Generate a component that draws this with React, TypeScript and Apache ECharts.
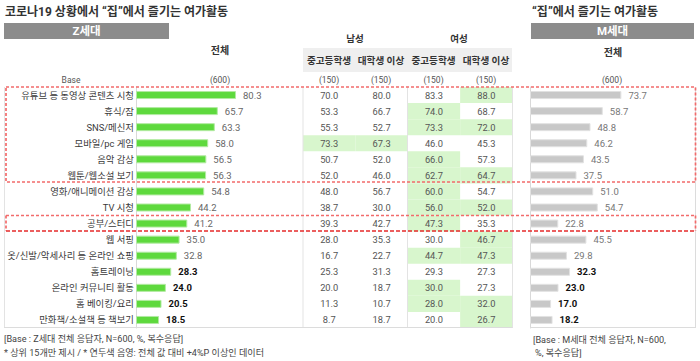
import React, { useEffect, useRef } from 'react';
import * as echarts from 'echarts';

const categories = [
  '유튜브 등 동영상 콘텐츠 시청',
  '휴식/잠',
  'SNS/메신저',
  '모바일/pc 게임',
  '음악 감상',
  '웹툰/웹소설 보기',
  '영화/애니메이션 감상',
  'TV 시청',
  '공부/스터디',
  '웹 서핑',
  '옷/신발/악세사리 등 온라인 쇼핑',
  '홈트레이닝',
  '온라인 커뮤니티 활동',
  '홈 베이킹/요리',
  '만화책/소설책 등 책보기',
];
const zTotal = [80.3, 65.7, 63.3, 58.0, 56.5, 56.3, 54.8, 44.2, 41.2, 35.0, 32.8, 28.3, 24.0, 20.5, 18.5];
const maleSecondary = [70.0, 53.3, 55.3, 73.3, 50.7, 52.0, 48.0, 38.7, 39.3, 28.0, 16.7, 25.3, 20.0, 11.3, 8.7];
const maleCollege = [80.0, 66.7, 52.7, 67.3, 52.0, 46.0, 56.7, 30.0, 42.7, 35.3, 22.7, 31.3, 18.7, 10.7, 18.7];
const femaleSecondary = [83.3, 74.0, 73.3, 46.0, 66.0, 62.7, 60.0, 56.0, 47.3, 30.0, 44.7, 29.3, 30.0, 28.0, 20.0];
const femaleCollege = [88.0, 68.7, 72.0, 45.3, 57.3, 64.7, 54.7, 52.0, 35.3, 46.7, 47.3, 27.3, 27.3, 32.0, 26.7];
const mTotal = [73.7, 58.7, 48.8, 46.2, 43.5, 37.5, 51.0, 54.7, 22.8, 45.5, 29.8, 32.3, 23.0, 17.0, 18.2];
const columnHeaders = ['중고등학생', '대학생 이상', '중고등학생', '대학생 이상'];
const groupHeaders = ['남성', '여성'];
const baseLabels = ['(600)', '(150)', '(150)', '(150)', '(150)', '(600)'];
const highlightThreshold = 4;

const FONT = "Roboto, 'Noto Sans CJK KR', sans-serif";
const TOP = 87;
const H = 241;

export default function App() {
  const ref = useRef<HTMLDivElement>(null);
  useEffect(() => {
    const chart = echarts.init(ref.current!, null, { renderer: 'svg' });
    const tableCols = [maleSecondary, maleCollege, femaleSecondary, femaleCollege];
    const tableData: any[] = [];
    tableCols.forEach((col, c) => {
      col.forEach((v, r) => {
        tableData.push([c, r, v, v - zTotal[r] >= highlightThreshold ? 1 : 0]);
      });
    });
    const barLabel = (i: number) => ({
      color: i >= 11 ? '#111' : '#666',
      fontWeight: i >= 11 ? 'bold' : 'normal',
    });
    const txt = (text: string, x: number, y: number, size: number, opts: any = {}) => ({
      type: 'text',
      x,
      y,
      z: 50,
      style: {
        text,
        fill: opts.fill || '#333',
        fontSize: size,
        fontFamily: FONT,
        fontWeight: opts.bold ? 'bold' : 'normal',
        textAlign: opts.align || 'center',
        textVerticalAlign: 'middle',
        align: opts.align || 'center',
        verticalAlign: 'middle',
      },
    });
    const gline = (x1: number, y1: number, x2: number, y2: number, stroke: string, lw = 1, dash?: number[], z = 5) => ({
      type: 'line',
      z,
      shape: { x1, y1, x2, y2 },
      style: { stroke, lineWidth: lw, lineDash: dash },
    });
    const RED = '#f26b6b';
    const DASH = [3, 2];
    const colX = [329, 381, 433.5, 486];
    const graphic: any[] = [
      txt('코로나19 상황에서 “집”에서 즐기는 여가활동', 5, 12, 12, { bold: true, align: 'left' }),
      txt('“집”에서 즐기는 여가활동', 532, 12, 12, { bold: true, align: 'left' }),
      { type: 'rect', z: 1, shape: { x: 4, y: 23, width: 165, height: 16 }, style: { fill: '#8c8c8c' } },
      txt('Z세대', 86.5, 31, 11.5, { bold: true, fill: '#fff' }),
      { type: 'rect', z: 1, shape: { x: 531, y: 23, width: 163, height: 16 }, style: { fill: '#8c8c8c' } },
      txt('M세대', 612.5, 31, 11.5, { bold: true, fill: '#fff' }),
      txt('전체', 220, 50, 10, { bold: true }),
      txt('전체', 613, 52, 10, { bold: true }),
      txt(groupHeaders[0], 355, 38.5, 9.5, { bold: true }),
      txt(groupHeaders[1], 459, 38.5, 9.5, { bold: true }),
      { type: 'rect', z: 1, shape: { x: 303, y: 48, width: 209, height: 24 }, style: { fill: '#efefef' } },
      ...columnHeaders.map((h, i) => txt(h, colX[i], 60, 9.6, { bold: true, fill: '#333' })),
      txt('Base', 71, 79.5, 8.5, { fill: '#555' }),
      txt(baseLabels[0], 220, 79.5, 8.5, { fill: '#555' }),
      ...colX.map((x, i) => txt(baseLabels[i + 1], x, 79.5, 8.5, { fill: '#555' })),
      txt(baseLabels[5], 612, 79.5, 8.5, { fill: '#555' }),
      // table borders
      gline(303, TOP, 303, TOP + H, '#e3e3e3'),
      gline(407.5, TOP, 407.5, TOP + H, '#e3e3e3'),
      gline(512.5, TOP, 512.5, TOP + H, '#e3e3e3'),
      gline(4.5, TOP, 4.5, TOP + H, '#e3e3e3'),
      gline(4, TOP + H - 0.5, 512.5, TOP + H - 0.5, '#dcdcdc'),
      gline(530, TOP + H - 0.5, 695.5, TOP + H - 0.5, '#dcdcdc'),
      gline(695.5, TOP, 695.5, TOP + H, '#dcdcdc'),
      // red dashed boxes
      { type: 'rect', z: 100, shape: { x: 6, y: 87, width: 689.5, height: 95 }, style: { fill: 'none', stroke: RED, lineWidth: 1.7, lineDash: DASH } },
      gline(6, 215.5, 695.5, 215.5, RED, 1.7, DASH, 100),
      gline(6, 215.5, 6, 231, RED, 1.7, DASH, 100),
      gline(695.5, 215.5, 695.5, 231, RED, 1.7, DASH, 100),
      gline(6, 231, 695.5, 231, '#e52a2a', 1.3, [4, 2], 100),
      // footers
      txt('[Base : Z세대 전체 응답자, N=600, %, 복수응답]', 4, 338.5, 9.1, { align: 'left', fill: '#444' }),
      txt('* 상위 15개만 제시 / * 연두색 음영: 전체 값 대비 +4%P 이상인 데이터', 4, 352.5, 9.1, { align: 'left', fill: '#444' }),
      txt('[Base : M세대 전체 응답자, N=600,', 533, 339.5, 9.1, { align: 'left', fill: '#444' }),
      txt('%, 복수응답]', 535, 353, 9.1, { align: 'left', fill: '#444' }),
    ];

    const option: any = {
      animation: false,
      backgroundColor: '#fff',
      textStyle: { fontFamily: FONT },
      grid: [
        { left: 136, top: TOP, width: 124.5, height: H },
        { left: 303, top: TOP, width: 209.5, height: H },
        { left: 530, top: TOP, width: 124, height: H },
      ],
      xAxis: [
        { type: 'value', gridIndex: 0, min: 0, max: 100, show: false },
        { type: 'category', gridIndex: 1, data: ['0', '1', '2', '3'], show: false },
        { type: 'value', gridIndex: 2, min: 0, max: 100, show: false },
      ],
      yAxis: [
        {
          type: 'category', gridIndex: 0, data: categories, inverse: true,
          axisTick: { show: false },
          axisLine: { show: true, lineStyle: { color: '#d9d9d9' } },
          axisLabel: { fontSize: 9.4, color: '#3a3a3a', margin: 2, fontFamily: FONT },
        },
        { type: 'category', gridIndex: 1, data: categories, inverse: true, show: false },
        {
          type: 'category', gridIndex: 2, data: categories, inverse: true,
          axisTick: { show: false },
          axisLine: { show: true, lineStyle: { color: '#d9d9d9' } },
          axisLabel: { show: false },
        },
      ],
      series: [
        {
          type: 'bar', xAxisIndex: 0, yAxisIndex: 0, barWidth: 8,
          itemStyle: { color: '#5ed93d', borderColor: '#b2eaa2', borderWidth: 1 },
          label: {
            show: true, position: 'right', distance: 7, fontSize: 9.5, fontFamily: FONT,
            formatter: (p: any) => Number(p.value).toFixed(1),
          },
          data: zTotal.map((v, i) => ({ value: v, label: barLabel(i) })),
        },
        {
          type: 'custom', xAxisIndex: 1, yAxisIndex: 1,
          encode: { x: 0, y: 1 },
          renderItem: (params: any, api: any) => {
            const c = api.value(0);
            const r = api.value(1);
            const v = api.value(2);
            const hl = api.value(3);
            const [cx, cy] = api.coord([c, r]);
            const [w, h] = api.size([1, 1]);
            return {
              type: 'group',
              children: [
                {
                  type: 'rect',
                  shape: { x: cx - w / 2, y: cy - h / 2, width: w, height: h },
                  style: { fill: hl ? '#d8f6cd' : 'rgba(0,0,0,0)' },
                },
                {
                  type: 'text',
                  x: cx,
                  y: cy,
                  style: {
                    text: Number(v).toFixed(1),
                    fill: '#555',
                    fontSize: 9.3,
                    fontFamily: FONT,
                    textAlign: 'center',
                    textVerticalAlign: 'middle',
                    align: 'center',
                    verticalAlign: 'middle',
                  },
                },
              ],
            };
          },
          data: tableData,
        },
        {
          type: 'bar', xAxisIndex: 2, yAxisIndex: 2, barWidth: 8,
          itemStyle: { color: '#c8c8c8', borderColor: '#e2e2e2', borderWidth: 1 },
          label: {
            show: true, position: 'right', distance: 7, fontSize: 9.5, fontFamily: FONT,
            formatter: (p: any) => Number(p.value).toFixed(1),
          },
          data: mTotal.map((v, i) => ({ value: v, label: { ...barLabel(i), color: i >= 11 ? '#111' : '#777' } })),
        },
      ],
      graphic,
    };
    chart.setOption(option);
    return () => chart.dispose();
  }, []);
  return (
    <div
      ref={ref}
      style={{ position: 'fixed', left: 0, top: 0, width: 700, height: 361, background: '#fff' }}
    />
  );
}
